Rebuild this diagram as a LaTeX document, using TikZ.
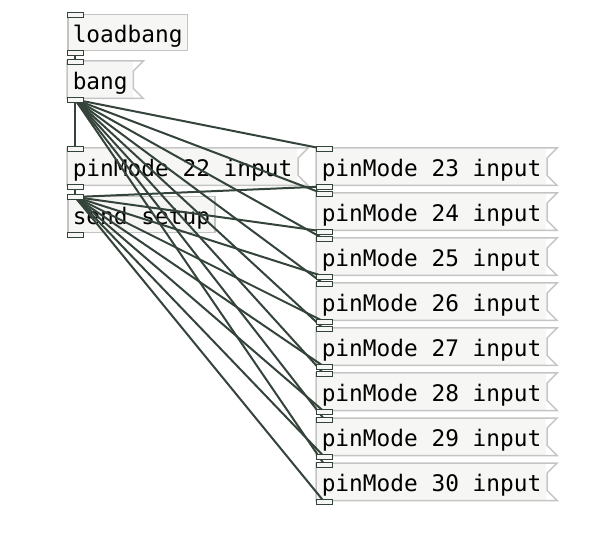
\documentclass[tikz,border=0pt]{standalone}
\usepackage{fontspec}
\newfontfamily\pdfont{DejaVu Sans Mono}
\usetikzlibrary{positioning}
\definecolor{boxline}{HTML}{C4C4C4}
\definecolor{boxfill}{HTML}{F6F6F4}
\definecolor{cordc}{HTML}{34443A}
\tikzset{
    obj/.style = {rectangle, draw=boxline, line width=1.5, fill=boxfill, anchor=north west,
                  minimum height=36, inner xsep=5, inner ysep=0, text height=22, text depth=2,
                  font={\pdfont\fontsize{22.8}{26}\selectfont}},
    msg/.style = {obj, draw=none},
    flag/.style = {draw=boxline, line width=1.5},
    port/.style = {rectangle, draw=cordc, line width=1, fill=boxfill, anchor=north west,
                   minimum width=16, minimum height=5, inner sep=0},
    cord/.style = {draw=cordc, line width=2},
}

\begin{document}
\begin{tikzpicture}[x=1pt,y=-1pt]
\useasboundingbox (0,0) rectangle (600,545);
\node[obj] at (67,14) (loadbang) {loadbang};
\node[msg] at (67,61) (bang) {bang};
\node[msg] at (67,148) (p22) {pinMode 22 input};
\node[obj] at (67,196) (send) {send setup};
\foreach \k in {23,...,30}
  \node[msg] at (316,{148+45*(\k-23)}) (p\k) {pinMode \k\ input};
% message box outline
\foreach \n in {bang,p22,p23,p24,p25,p26,p27,p28,p29,p30}
  \draw[flag] (\n.north west) -- ([xshift=10]\n.north east) -- ([yshift=-10]\n.north east)
    -- ([yshift=10]\n.south east) -- ([xshift=10]\n.south east) -- (\n.south west) -- cycle;
% inlets and outlets
\foreach \n in {loadbang,bang,p22,send,p23,p24,p25,p26,p27,p28,p29,p30} {
  \coordinate (\n-i) at ([yshift=1.5]\n.north west);
  \coordinate (\n-o) at ([yshift=1.5]\n.south west);
}
%
\draw[cord] ([xshift=8,yshift=-2.5]loadbang-o) -- ([xshift=8,yshift=-2.5]bang-i);
\foreach \k in {22,...,30} {
  \draw[cord] ([xshift=8,yshift=-2.5]bang-o) -- ([xshift=8,yshift=-2.5]p\k-i);
  \draw[cord] ([xshift=8,yshift=-2.5]p\k-o) -- ([xshift=8,yshift=-2.5]send-i);
}
%
\foreach \n in {loadbang,bang,p22,send,p23,p24,p25,p26,p27,p28,p29,p30} {
  \node[port] at (\n-i) {};
  \node[port] at (\n-o) {};
}
\end{tikzpicture}
\end{document}
